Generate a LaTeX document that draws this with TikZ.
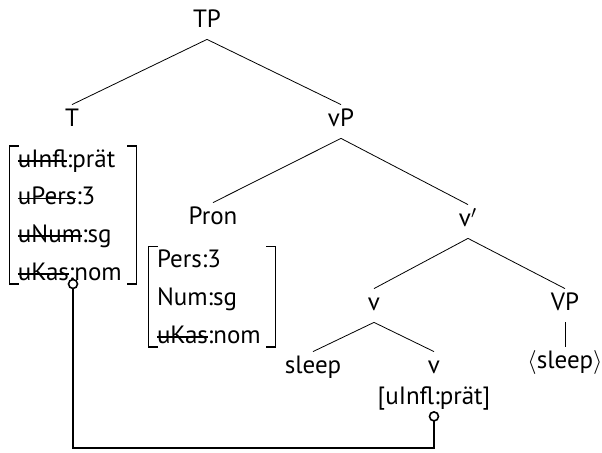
\documentclass[tikz,border=0pt]{standalone}
\usepackage{fontspec}
\setmainfont{PT Sans}

\newsavebox{\strikebox}
\newcommand{\strike}[1]{\leavevmode\sbox{\strikebox}{#1}\rlap{\rule[0.45ex]{\wd\strikebox}{0.8pt}}\usebox{\strikebox}}

\tikzset{
  cat/.style={anchor=base, text height=9pt, text depth=3.5pt, inner sep=2pt},
  featbox/.style={align=left, inner xsep=4pt, inner ysep=1.5pt, text width=55pt,
    font=\fontsize{12.5}{18.85}\selectfont},
  probe/.style={circle, draw, thick, fill=white, inner sep=0pt, minimum size=4.5pt},
}
\newcommand{\featbrackets}[1]{%
  \draw[semithick] (#1.north west) ++(4.5pt,0) -- (#1.north west) -- (#1.south west) -- ++(4.5pt,0);
  \draw[semithick] (#1.north east) ++(-4.5pt,0) -- (#1.north east) -- (#1.south east) -- ++(-4.5pt,0);}

\begin{document}
\begin{tikzpicture}[x=0.5pt, y=-0.5pt, font=\fontsize{12.5}{15}\selectfont]
\useasboundingbox (0,0) rectangle (602,453);
% categories
\node[cat] (tp) at (207,28) {TP};
\node[cat] (t) at (72,127) {T};
\node[cat] (vp) at (341,127) {vP};
\node[cat] (pron) at (213,225) {Pron};
\node[cat] (vbar) at (468,227) {v$'$};
\node[cat] (v) at (374,311) {v};
\node[cat] (bigvp) at (565,311) {VP};
\node[cat] (sleep) at (313,374) {sleep};
\node[cat] (vlow) at (434,374) {v};
\node[cat] (trace) at (565,369) {$\langle$sleep$\rangle$};
\node[cat] (vfeat) at (434,405) {[uInfl:prät]};
% feature matrices
\node[featbox] (tfeat) at (73,215) {\strike{uInfl}:prät\\\strike{uPers}:3\\\strike{uNum}:sg\\\strike{uKas}:nom};
\featbrackets{tfeat}
\node[featbox] (pronfeat) at (212,297) {Pers:3\\Num:sg\\\strike{uKas}:nom};
\featbrackets{pronfeat}
% branches
\draw (tp.south) -- (t.north);
\draw (tp.south) -- (vp.north);
\draw (vp.south) -- (pron.north);
\draw (vp.south) -- (vbar.north);
\draw (vbar.south) -- (v.north);
\draw (vbar.south) -- (bigvp.north);
\draw (v.south) -- (sleep.north);
\draw (v.south) -- (vlow.north);
\draw (bigvp.south) -- (trace.north);
% agree link
\coordinate (floor) at (0,448);
\draw[thick] (tfeat.south) -- (tfeat.south |- floor) -- (vfeat.south |- floor) -- (vfeat.south);
\node[probe] (tprobe) at (tfeat.south) {};
\node[probe] (vprobe) at (vfeat.south) {};
\end{tikzpicture}
\end{document}
